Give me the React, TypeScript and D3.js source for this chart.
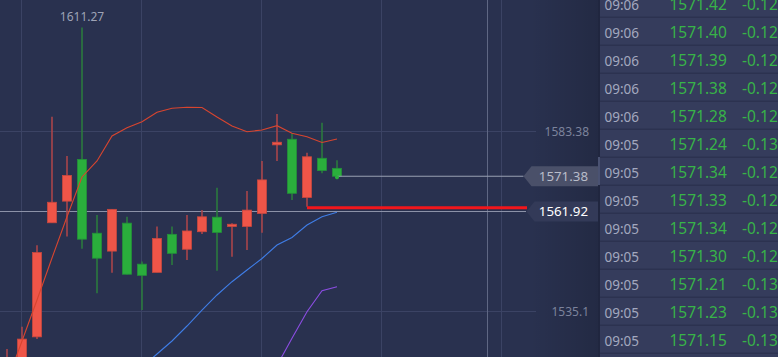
import React from "react";
import * as d3 from "d3";

const candleOpen = [1515.0, 1518.0, 1528.3, 1558.9, 1564.7, 1575.9, 1556.1, 1551.3, 1558.8, 1547.8, 1545.6, 1555.8, 1551.8, 1556.5, 1560.4, 1557.9, 1557.9, 1561.4, 1579.8, 1581.3, 1565.7, 1576.2, 1573.5];
const candleHigh = [1525.04, 1531.0, 1552.9, 1587.35, 1576.8, 1611.27, 1561.0, 1562.5, 1560.5, 1548.5, 1557.9, 1557.9, 1561.0, 1562.3, 1568.3, 1558.8, 1567.4, 1575.5, 1588.1, 1582.9, 1577.7, 1585.7, 1575.7];
const candleLow = [1512.0, 1516.0, 1527.7, 1558.9, 1555.2, 1551.9, 1540.0, 1545.5, 1545.0, 1535.5, 1545.6, 1547.6, 1548.9, 1555.9, 1546.0, 1549.8, 1551.6, 1556.2, 1575.5, 1565.0, 1563.2, 1572.2, 1570.6];
const candleClose = [1522.1, 1527.7, 1550.9, 1564.4, 1571.6, 1554.5, 1549.4, 1562.5, 1545.1, 1544.8, 1554.7, 1550.7, 1556.7, 1560.5, 1556.3, 1558.5, 1562.3, 1570.4, 1580.5, 1566.8, 1576.6, 1572.9, 1571.38];

const maRed: (number | null)[] = [1516.2, 1527.19, 1538.19, 1549.45, 1560.53, 1571.18, 1575.47, 1582.17, 1584.4, 1586.01, 1588.53, 1589.6, 1589.87, 1589.82, 1587.27, 1584.86, 1583.33, 1583.78, 1584.94, 1582.9, 1581.99, 1580.43, 1581.37];
const maBlue: (number | null)[] = [null, null, null, null, null, null, null, null, null, 1520.21, 1523.7, 1527.19, 1531.21, 1535.5, 1539.53, 1543.09, 1546.23, 1549.32, 1552.94, 1554.95, 1558.3, 1560.53, 1561.71];
const maPurple: (number | null)[] = [null, null, null, null, null, null, null, null, null, null, null, null, null, null, null, null, null, null, 1520.62, 1527.91, 1535.05, 1540.68, 1541.75];

const gridPrices = [1583.38, 1535.1];
const gridPriceLabels = ["1583.38", "1535.1"];
const maxLabel = "1611.27";
const maxIndex = 5;
const lastPrice = 1571.38;
const lastPriceLabel = "1571.38";
const crossPrice = 1561.92;
const crossPriceLabel = "1561.92";
const crossIndex = 32;
const redLevel = 1562.9;
const redLevelStart = 20;
const gridIndices = [1, 9, 17, 25, 33];

const tickTimes = ["09:06", "09:06", "09:06", "09:06", "09:06", "09:05", "09:05", "09:05", "09:05", "09:05", "09:05", "09:05", "09:05"];
const tickPrices = ["1571.42", "1571.40", "1571.39", "1571.38", "1571.28", "1571.24", "1571.34", "1571.33", "1571.34", "1571.30", "1571.21", "1571.23", "1571.15"];
const tickChanges = ["-0.12%", "-0.12%", "-0.12%", "-0.12%", "-0.12%", "-0.13%", "-0.12%", "-0.12%", "-0.12%", "-0.12%", "-0.13%", "-0.13%", "-0.13%"];

const W = 778;
const H = 357;
const PANEL_X = 598;
const BG = "#29314f";
const RED = "#ef5548";
const RED_WICK = "#a9454a";
const GREEN = "#2aae3c";
const GREEN_WICK = "#2b7a3e";
const FONT = "'Noto Sans', sans-serif";

export default function App() {
  const x = d3.scaleLinear().domain([0, 22]).range([7, 337]);
  const y = d3.scaleLinear().domain([1535.1, 1583.38]).range([311.5, 131.5]);
  const bodyW = 9;

  const lineGen = d3
    .line<number | null>()
    .defined((d) => d !== null)
    .x((_, i) => x(i))
    .y((d) => y(d as number));

  const rowY = d3.scaleLinear().domain([0, 1]).range([4.7, 32.7]);

  const lastY = y(lastPrice);
  const crossY = y(crossPrice);
  const redY = y(redLevel);

  const boxTip = 523.5;
  const box = (cy: number, tip: number) =>
    `M${tip},${cy} L${tip + 8},${cy - 10} L${PANEL_X},${cy - 10} L${PANEL_X},${cy + 10} L${tip + 8},${cy + 10} Z`;

  return (
    <svg
      width={W}
      height={H}
      style={{ position: "fixed", left: 0, top: 0, display: "block" }}
      fontFamily={FONT}
    >
      <defs>
        <linearGradient id="shade" x1="0" x2="1" y1="0" y2="0">
          <stop offset="0" stopColor="#000" stopOpacity="0" />
          <stop offset="1" stopColor="#000" stopOpacity="0.14" />
        </linearGradient>
      </defs>
      <rect x={0} y={0} width={W} height={H} fill={BG} />
      <rect x={530} y={0} width={PANEL_X - 530} height={H} fill="url(#shade)" />

      {/* grid */}
      {gridIndices.map((gi) => (
        <line key={"vg" + gi} x1={Math.round(x(gi)) - 0.5} x2={Math.round(x(gi)) - 0.5} y1={0} y2={H} stroke="#3b4364" strokeWidth={1} />
      ))}
      {gridPrices.map((p) => (
        <line key={"hg" + p} x1={0} x2={536} y1={y(p)} y2={y(p)} stroke="#3b4364" strokeWidth={1} />
      ))}
      {gridPrices.map((p, i) => (
        <text key={"hl" + p} x={589} y={y(p)} dy="0.35em" textAnchor="end" fontSize={12} fill="#7c839c">
          {gridPriceLabels[i]}
        </text>
      ))}

      {/* crosshair */}
      <line x1={Math.round(x(crossIndex)) + 0.5} x2={Math.round(x(crossIndex)) + 0.5} y1={0} y2={H} stroke="#5f6783" strokeWidth={1} />
      <line x1={0} x2={526} y1={crossY} y2={crossY} stroke="#8c92a8" strokeWidth={1} />

      {/* candles */}
      {candleOpen.map((o, i) => {
        const c = candleClose[i];
        const up = c >= o;
        const top = y(Math.max(o, c));
        const bot = y(Math.min(o, c));
        const h = Math.max(bot - top, 2);
        const cx = x(i);
        return (
          <g key={"c" + i}>
            <line x1={cx} x2={cx} y1={y(candleHigh[i])} y2={y(candleLow[i])} stroke={up ? RED_WICK : GREEN_WICK} strokeWidth={1.6} />
            <rect x={cx - bodyW / 2} y={top} width={bodyW} height={h} fill={up ? RED : GREEN} stroke={up ? "#c9483f" : "#23913a"} strokeWidth={0.8} />
          </g>
        );
      })}

      {/* moving averages */}
      <path d={lineGen(maRed) || ""} fill="none" stroke="#d8452f" strokeWidth={1.1} />
      <path d={lineGen(maBlue) || ""} fill="none" stroke="#3f7de6" strokeWidth={1.1} />
      <path d={lineGen(maPurple) || ""} fill="none" stroke="#8b4de2" strokeWidth={1.1} />

      {/* max label */}
      <text x={x(maxIndex)} y={y(candleHigh[maxIndex]) - 7} textAnchor="middle" fontSize={12} fill="#9ea3b6">
        {maxLabel}
      </text>

      {/* last price line */}
      <line x1={x(22)} x2={boxTip} y1={lastY} y2={lastY} stroke="#9aa0b4" strokeWidth={1} />
      <circle cx={x(22)} cy={lastY + 1} r={2} fill={GREEN} />

      {/* red level */}
      <line x1={x(redLevelStart)} x2={527} y1={redY} y2={redY} stroke="#f2161b" strokeWidth={3} />

      {/* price boxes */}
      <path d={box(lastY, boxTip)} fill="#4a5069" />
      <text x={588} y={lastY} dy="0.36em" textAnchor="end" fontSize={13.3} fill="#b9bdca">
        {lastPriceLabel}
      </text>
      <path d={box(crossY, 526.5)} fill="#333a58" />
      <text x={588} y={crossY} dy="0.36em" textAnchor="end" fontSize={13.3} fill="#ffffff">
        {crossPriceLabel}
      </text>

      {/* tick panel */}
      <rect x={PANEL_X} y={0} width={W - PANEL_X} height={H} fill="#353c5c" />
      <rect x={PANEL_X} y={0} width={2} height={H} fill="#20263f" />
      <rect x={PANEL_X} y={157} width={2} height={28} fill="#4a5272" />
      {tickTimes.map((t, k) => (
        <line key={"sep" + k} x1={PANEL_X + 2} x2={W} y1={rowY(k) + 12.5} y2={rowY(k) + 12.5} stroke="#2c3250" strokeWidth={1.5} />
      ))}
      {tickTimes.map((t, k) => (
        <g key={"row" + k}>
          <text x={604.5} y={rowY(k)} dy="0.36em" fontSize={13.5} fill="#a3a8bf">
            {t}
          </text>
          <text x={669.5} y={rowY(k)} dy="0.36em" fontSize={15.5} fill="#38b348">
            {tickPrices[k]}
          </text>
          <text x={742} y={rowY(k)} dy="0.36em" fontSize={15.5} fill="#38b348">
            {tickChanges[k]}
          </text>
        </g>
      ))}
    </svg>
  );
}
